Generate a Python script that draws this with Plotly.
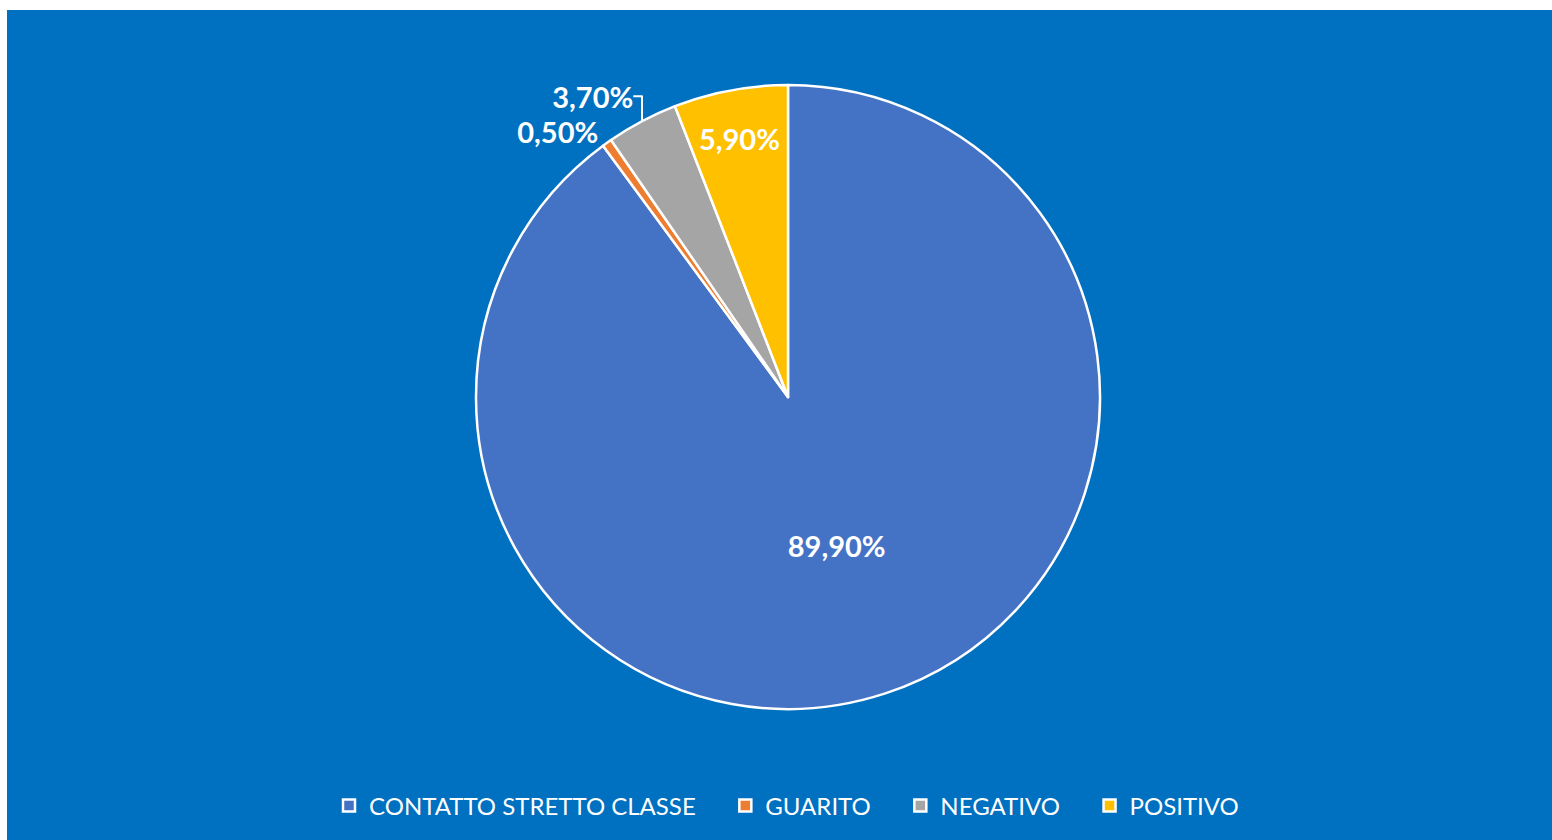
import plotly.graph_objects as go

labels = ["CONTATTO STRETTO CLASSE", "GUARITO", "NEGATIVO", "POSITIVO"]
values = [89.9, 0.5, 3.7, 5.9]
colors = ["#4472C4", "#ED7D31", "#A5A5A5", "#FFC000"]
text_positions = ["inside", "outside", "outside", "inside"]

FONT = "Lato, 'Open Sans', sans-serif"
OFFX, OFFY = 7, 10                 # framed chart offset on the page
W, H = 1552 - OFFX, 840 - OFFY     # figure size
CX, CY, R = 788 - OFFX, 397 - OFFY, 312   # pie centre / radius in figure px

pad = "\u00a0" * 4
legend_names = [l + pad for l in labels]

fig = go.Figure(go.Pie(
    labels=legend_names,
    values=values,
    sort=False,
    direction="clockwise",
    rotation=0,
    domain=dict(x=[(CX - R) / W, (CX + R) / W], y=[(H - CY - R) / H, (H - CY + R) / H]),
    marker=dict(colors=colors, line=dict(color="white", width=2.5)),
    textposition=text_positions,
    texttemplate="%{percent:.2%}",
    textfont=dict(family=FONT, size=29, color="white", weight="bold"),
    insidetextfont=dict(family=FONT, size=29, color="white", weight="bold"),
    outsidetextfont=dict(family=FONT, size=29, color="white", weight="bold"),
    insidetextorientation="horizontal",
    hovertemplate="%{label}: %{percent:.2%}<extra></extra>",
))

fig.update_layout(
    width=W,
    height=H,
    paper_bgcolor="#0070C0",
    plot_bgcolor="#0070C0",
    separators=",.",
    margin=dict(l=0, r=0, t=0, b=0),
    showlegend=True,
    legend=dict(
        orientation="h",
        x=(343 - 14 - OFFX) / W, y=(H - (806 - OFFY)) / H, xanchor="left", yanchor="middle",
        font=dict(family=FONT, size=24, color="white"),
        bgcolor="rgba(0,0,0,0)",
    ),
)

fig.write_html(
    "out.html",
    config={"displayModeBar": False},
    post_script="document.body.style.margin='%dpx 0 0 %dpx';document.body.style.overflow='hidden';" % (OFFY, OFFX),
)
